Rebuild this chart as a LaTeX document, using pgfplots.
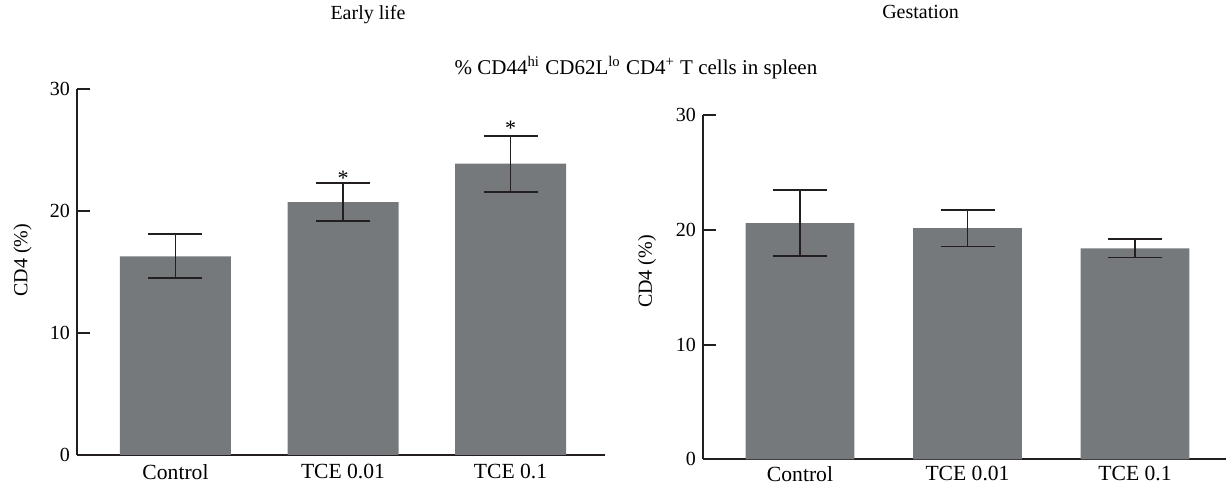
\documentclass[border=0pt]{standalone}
\usepackage{pgfplots}
\pgfplotsset{compat=1.18}
\usepackage{fontspec}
\setmainfont{Liberation Serif}
\definecolor{barg}{RGB}{118,121,124}
\definecolor{ink}{RGB}{35,31,32}
\pgfplotsset{
 panel/.style={
  scale only axis, anchor=south west, clip=false,
  ybar,
  axis lines*=left, axis line style={-, line width=0.9pt, ink},
  ymin=0, ymax=30, ytick={0,10,20,30},
  xtick=data, xticklabels={Control, TCE 0.01, TCE 0.1},
  tick align=inside, major tick length=6.3pt,
  ytick style={line width=0.9pt, ink},
  xtick style={draw=none},
  ytick pos=left,
  font=\fontsize{10}{12}\selectfont,
  yticklabel style={font=\fontsize{10}{12}\selectfont},
  /pgf/number format/assume math mode=true,
  ylabel={CD4 (\%)},
  xticklabel style={font=\fontsize{10.8}{12}\selectfont},
 },
 bars/.style={fill=barg, draw=none,
  error bars/.cd, y dir=both, y explicit, error mark=|,
  error bar style={line width=0.9pt, ink},
  error mark options={ink, line width=0.9pt, mark size=13.5pt}},
}
\begin{document}
\begin{tikzpicture}
\path[use as bounding box] (0,0) rectangle (614pt,243pt);
\node[font=\fontsize{10}{12}\selectfont] at (184pt,235.5pt) {Early life};
\node[font=\fontsize{10}{12}\selectfont] at (460.3pt,237pt) {Gestation};
\node[font=\fontsize{10.5}{12}\selectfont] at (318pt,209pt) {\% CD44\textsuperscript{hi} CD62L\textsuperscript{lo} CD4\textsuperscript{+} T cells in spleen};
\begin{axis}[panel, at={(38.5pt,15.5pt)}, width=264pt, height=182.85pt,
  xmin=-0.588, xmax=2.564, bar width=55.5pt,
  xticklabel style={yshift=-1.2pt},
  ylabel style={at={(axis description cs:-0.103,0.533)}, anchor=center}]
\addplot[bars] coordinates {(0,16.3) +- (0,1.8) (1,20.75) +- (0,1.55) (2,23.9) +- (0,2.3)};
\node[anchor=base, font=\fontsize{11}{12}\selectfont] at (axis cs:1,22.1) {*};
\node[anchor=base, font=\fontsize{11}{12}\selectfont] at (axis cs:2,26.2) {*};
\end{axis}
\begin{axis}[panel, at={(351.5pt,13.35pt)}, width=261.5pt, height=172pt,
  xmin=-0.579, xmax=2.543, bar width=54.3pt,
  xticklabel style={yshift=0pt},
  ylabel style={at={(axis description cs:-0.107,0.546)}, anchor=center}]
\addplot[bars] coordinates {(0,20.6) +- (0,2.9) (1,20.15) +- (0,1.6) (2,18.4) +- (0,0.8)};
\end{axis}
\end{tikzpicture}
\end{document}
